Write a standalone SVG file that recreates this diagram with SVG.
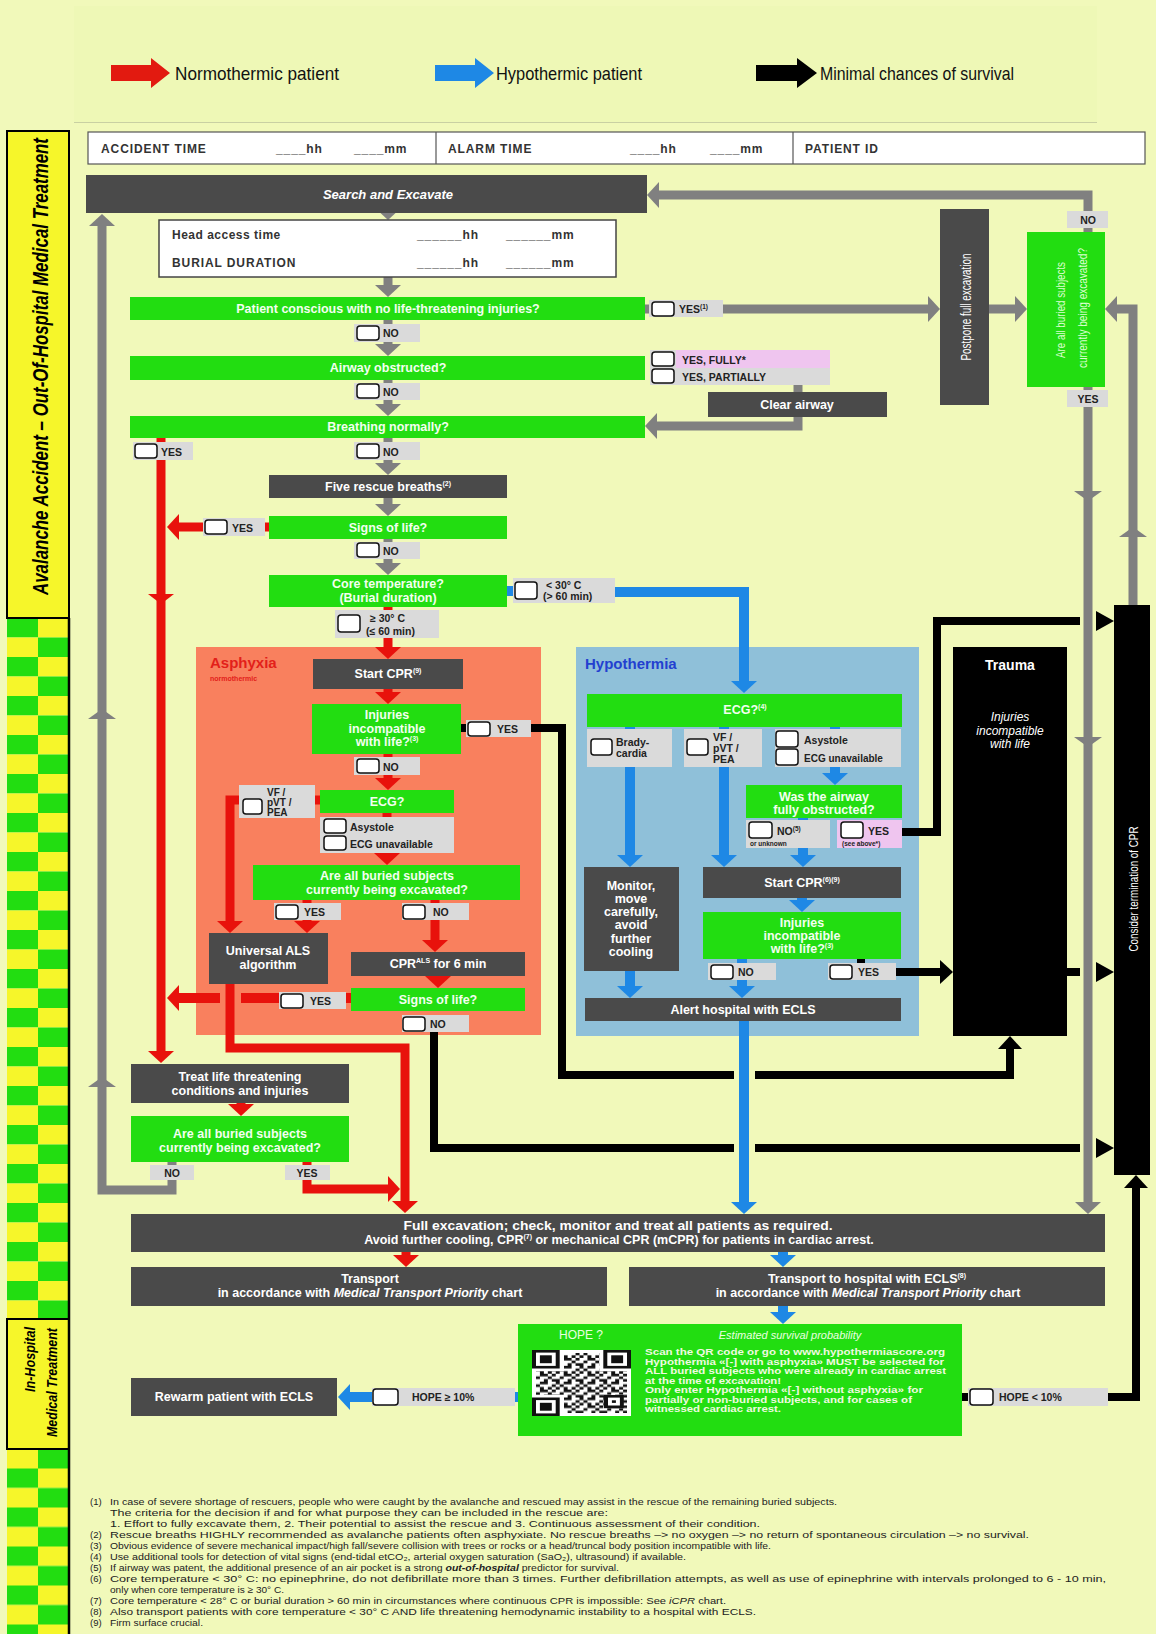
<svg xmlns="http://www.w3.org/2000/svg" width="1156" height="1634" viewBox="0 0 1156 1634">
<defs>
<style>
text{font-family:"Liberation Sans",Arial,sans-serif;font-weight:bold;font-size:12.5px;fill:#fff}
.m{text-anchor:middle}
.e{text-anchor:end}
.it{font-style:italic}
.nb{font-weight:normal}
.gt{fill:#f3fff0}
.lt{fill:#222;font-size:10.5px}
.sm{fill:#222;font-size:6.5px}
.hd{fill:#333;font-size:12px;letter-spacing:0.9px}
.fn{fill:#222;font-weight:normal;font-size:9.5px}
.lg{fill:#111;font-weight:normal;font-size:19px}
.gb{fill:#22dd11}
.db{fill:#4a4a4a}
.lb{fill:#dadada}
.pk{fill:#efc5ef}
.cb{fill:#fff;stroke:#111;stroke-width:1.5}
.cg{fill:none;stroke:#808080;stroke-width:9}
.cr{fill:none;stroke:#e8120c;stroke-width:9}
.cbl{fill:none;stroke:#1e88e5;stroke-width:10}
.ck{fill:none;stroke:#000;stroke-width:8}
.mg{fill:#808080}
.mr{fill:#e8120c}
.mk{fill:#000}
</style>
<marker id="hg" markerUnits="userSpaceOnUse" markerWidth="12" markerHeight="26" refX="1" refY="13" orient="auto"><path d="M0,0L12,13L0,26z" fill="#808080"/></marker>
<marker id="hr" markerUnits="userSpaceOnUse" markerWidth="12" markerHeight="26" refX="1" refY="13" orient="auto"><path d="M0,0L12,13L0,26z" fill="#e8120c"/></marker>
<marker id="hb" markerUnits="userSpaceOnUse" markerWidth="12" markerHeight="26" refX="1" refY="13" orient="auto"><path d="M0,0L12,13L0,26z" fill="#1e88e5"/></marker>
<marker id="hk" markerUnits="userSpaceOnUse" markerWidth="13" markerHeight="24" refX="1" refY="12" orient="auto"><path d="M0,0L13,12L0,24z" fill="#000"/></marker>
<pattern id="chk1" x="7" y="618" width="62" height="39" patternUnits="userSpaceOnUse">
<rect x="0" y="0" width="31" height="19.5" fill="#22dd11"/><rect x="31" y="0" width="31" height="19.5" fill="#f6f62a"/>
<rect x="0" y="19.5" width="31" height="19.5" fill="#f6f62a"/><rect x="31" y="19.5" width="31" height="19.5" fill="#22dd11"/>
</pattern>
<pattern id="chk2" x="7" y="1429.5" width="62" height="39" patternUnits="userSpaceOnUse">
<rect x="0" y="0" width="31" height="19.5" fill="#22dd11"/><rect x="31" y="0" width="31" height="19.5" fill="#f6f62a"/>
<rect x="0" y="19.5" width="31" height="19.5" fill="#f6f62a"/><rect x="31" y="19.5" width="31" height="19.5" fill="#22dd11"/>
</pattern>
<pattern id="qrp" x="532" y="1350" width="23.76" height="15.84" patternUnits="userSpaceOnUse">
<g fill="#111">
<rect x="0" y="0" width="3.96" height="2.64"/><rect x="7.92" y="0" width="7.92" height="2.64"/>
<rect x="3.96" y="2.64" width="3.96" height="2.64"/><rect x="19.8" y="2.64" width="3.96" height="2.64"/>
<rect x="0" y="5.28" width="3.96" height="2.64"/><rect x="7.92" y="5.28" width="3.96" height="2.64"/><rect x="15.84" y="5.28" width="3.96" height="2.64"/>
<rect x="7.92" y="7.92" width="7.92" height="2.64"/><rect x="19.8" y="7.92" width="3.96" height="2.64"/>
<rect x="3.96" y="10.56" width="3.96" height="2.64"/><rect x="15.84" y="10.56" width="3.96" height="2.64"/>
<rect x="0" y="13.2" width="3.96" height="2.64"/><rect x="11.88" y="13.2" width="3.96" height="2.64"/><rect x="19.8" y="13.2" width="3.96" height="2.64"/>
</g>
</pattern>
</defs>

<rect x="0" y="0" width="1156" height="1634" fill="#f1f9ba"/>

<g id="legend">
<rect x="74" y="6" width="1023" height="117" fill="#eef8b6"/>
<line x1="74" y1="122.5" x2="1097" y2="122.5" stroke="#c9d0a2" stroke-width="1"/>
<polygon points="111,65 151,65 151,58 170,73 151,88 151,81 111,81" fill="#e21a10"/>
<text class="lg" x="175" y="80" textLength="164" lengthAdjust="spacingAndGlyphs">Normothermic patient</text>
<polygon points="435,65 475,65 475,58 494,73 475,88 475,81 435,81" fill="#1e88e5"/>
<text class="lg" x="496" y="80" textLength="146" lengthAdjust="spacingAndGlyphs">Hypothermic patient</text>
<polygon points="756,65 797,65 797,58 817,73 797,88 797,81 756,81" fill="#000"/>
<text class="lg" x="820" y="80" textLength="194" lengthAdjust="spacingAndGlyphs">Minimal chances of survival</text>
</g>

<g id="side-band">
<rect x="7" y="618" width="62" height="701" fill="url(#chk1)"/>
<rect x="7" y="1449" width="62" height="185" fill="url(#chk2)"/>
<rect x="7" y="131" width="62" height="487" fill="#f6f62a" stroke="#000" stroke-width="2"/>
<rect x="7" y="1319" width="62" height="130" fill="#f6f62a" stroke="#000" stroke-width="2"/>
<line x1="69" y1="618" x2="69" y2="1634" stroke="#000" stroke-width="2.5"/>
<text class="it" transform="translate(48,595) rotate(-90)" style="fill:#000;font-size:22px" textLength="457" lengthAdjust="spacingAndGlyphs">Avalanche Accident – Out-Of-Hospital Medical Treatment</text>
<text class="it e" transform="translate(35,1327) rotate(-90)" style="fill:#000;font-size:15px" textLength="65" lengthAdjust="spacingAndGlyphs">In-Hospital</text>
<text class="it e" transform="translate(57,1328) rotate(-90)" style="fill:#000;font-size:15px" textLength="109" lengthAdjust="spacingAndGlyphs">Medical Treatment</text>
</g>

<g id="header">
<rect x="88" y="132" width="1057" height="32" fill="#fff" stroke="#555" stroke-width="1.2"/>
<line x1="436" y1="132" x2="436" y2="164" stroke="#555" stroke-width="1.2"/>
<line x1="793" y1="132" x2="793" y2="164" stroke="#555" stroke-width="1.2"/>
<text class="hd" x="101" y="153">ACCIDENT TIME</text>
<text class="hd" x="276" y="153">____hh</text>
<text class="hd" x="354" y="153">____mm</text>
<text class="hd" x="448" y="153">ALARM TIME</text>
<text class="hd" x="630" y="153">____hh</text>
<text class="hd" x="710" y="153">____mm</text>
<text class="hd" x="805" y="153">PATIENT ID</text>
</g>

<g id="region-asphyxia">
<rect x="196" y="647" width="345" height="388" fill="#f9805e"/>
<text x="210" y="668" style="fill:#e3201a;font-size:15px">Asphyxia</text>
<text x="210" y="681" style="fill:#e3201a;font-size:7px">normothermic</text>
</g>
<g id="region-hypothermia">
<rect x="576" y="647" width="343" height="389" fill="#8fc0d9"/>
<text x="585" y="669" style="fill:#2340d0;font-size:15px">Hypothermia</text>
</g>

<g id="connectors">
<path class="cg" d="M388,206V209" marker-end="url(#hg)"/>
<path class="cg" d="M388,276V286" marker-end="url(#hg)"/>
<path class="cg" d="M388,318V326"/>
<path class="cg" d="M388,340V345" marker-end="url(#hg)"/>
<path class="cg" d="M388,378V385"/>
<path class="cg" d="M388,398V405" marker-end="url(#hg)"/>
<path class="cg" d="M388,436V444"/>
<path class="cg" d="M388,458V464" marker-end="url(#hg)"/>
<path class="cg" d="M388,496V505" marker-end="url(#hg)"/>
<path class="cg" d="M388,537V544"/>
<path class="cg" d="M388,557V564" marker-end="url(#hg)"/>
<path class="cg" d="M640,309H929" marker-end="url(#hg)"/>
<path class="cg" d="M985,309H1016" marker-end="url(#hg)"/>
<path class="cg" d="M798,383V394"/>
<path class="cg" d="M798,415V426H656" marker-end="url(#hg)"/>
<path class="cg" d="M1088,236V195H658" marker-end="url(#hg)"/>
<path class="cg" d="M1088,385V1203" marker-end="url(#hg)"/>
<path class="cg" d="M1133,607V309H1116" marker-end="url(#hg)"/>
<path class="cg" d="M172,1160V1190H102V225" marker-end="url(#hg)"/>
<polygon class="mg" points="102,709 88,719 116,719"/>
<polygon class="mg" points="102,1077 88,1087 116,1087"/>
<polygon class="mg" points="1088,501 1074,491 1102,491"/>
<polygon class="mg" points="1088,747 1074,737 1102,737"/>
<polygon class="mg" points="1133,527 1119,537 1147,537"/>
<path class="cr" d="M161,436V1052" marker-end="url(#hr)"/>
<polygon class="mr" points="161,604 148,594 174,594"/>
<path class="cr" d="M271,527H178" marker-end="url(#hr)"/>
<path class="cr" d="M388,605V612"/>
<path class="cr" d="M388,636V648" marker-end="url(#hr)"/>
<path class="cr" d="M388,687V693" marker-end="url(#hr)"/>
<path class="cr" d="M388,752V759"/>
<path class="cr" d="M388,773V779" marker-end="url(#hr)"/>
<path class="cr" d="M387,811V819"/>
<path class="cr" d="M387,851V854" marker-end="url(#hr)"/>
<path class="cr" d="M322,800H312"/>
<path class="cr" d="M241,800H230V922" marker-end="url(#hr)"/>
<path class="cr" d="M307,898V905"/>
<path class="cr" d="M307,918V922" marker-end="url(#hr)"/>
<path class="cr" d="M435,898V905"/>
<path class="cr" d="M435,918V941" marker-end="url(#hr)"/>
<path class="cr" d="M438,974V977" marker-end="url(#hr)"/>
<path class="cr" d="M230,982V1048H405V1202" marker-end="url(#hr)"/>
<path class="cr" d="M353,998H241" style="stroke-width:10"/>
<path class="cr" d="M220,998H178" style="stroke-width:10" marker-end="url(#hr)"/>
<path class="cr" d="M241,1101V1105" marker-end="url(#hr)"/>
<path class="cr" d="M307,1160V1167"/>
<path class="cr" d="M307,1178V1189H389" marker-end="url(#hr)"/>
<path class="cr" d="M406,1250V1256" marker-end="url(#hr)"/>
<path class="cbl" d="M505,591H515"/>
<path class="cbl" d="M613,592H744V682" marker-end="url(#hb)"/>
<path class="cbl" d="M630,725V731M724,725V731M835,725V731"/>
<path class="cbl" d="M835,765V774" marker-end="url(#hb)"/>
<path class="cbl" d="M630,765V856" marker-end="url(#hb)"/>
<path class="cbl" d="M724,765V856" marker-end="url(#hb)"/>
<path class="cbl" d="M803,816V822"/>
<path class="cbl" d="M803,846V856" marker-end="url(#hb)"/>
<path class="cbl" d="M802,896V901" marker-end="url(#hb)"/>
<path class="cbl" d="M742,957V965"/>
<path class="cbl" d="M742,978V987" marker-end="url(#hb)"/>
<path class="cbl" d="M630,969V987" marker-end="url(#hb)"/>
<path class="cbl" d="M744,1019V1203" marker-end="url(#hb)"/>
<path class="cbl" d="M783,1250V1256" marker-end="url(#hb)"/>
<path class="cbl" d="M783,1304V1313" marker-end="url(#hb)"/>
<path class="cbl" d="M520,1397H513"/>
<path class="cbl" d="M374,1397H349" marker-end="url(#hb)"/>
<path class="ck" d="M459,728H468"/>
<path class="ck" d="M529,728H562V1075H734"/>
<path class="ck" d="M755,1075H1010V1048" marker-end="url(#hk)"/>
<path class="ck" d="M900,832H937V621H1080"/>
<polygon class="mk" points="1096,611 1114,621 1096,631"/>
<path class="ck" d="M861,957V965"/>
<path class="ck" d="M894,972H941" marker-end="url(#hk)"/>
<path class="ck" d="M1065,972H1080"/>
<polygon class="mk" points="1096,962 1114,972 1096,982"/>
<path class="ck" d="M434,1030V1148H734"/>
<path class="ck" d="M755,1148H1080"/>
<polygon class="mk" points="1096,1138 1114,1148 1096,1158"/>
<path class="ck" d="M960,1397H970"/>
<path class="ck" d="M1106,1397H1136V1187" marker-end="url(#hk)"/>
</g>

<g id="search"><rect class="db" x="86" y="175" width="561" height="38"/><text class="m it" x="388" y="199" style="font-size:13px">Search and Excavate</text></g>

<g id="head-access">
<rect x="159" y="220" width="457" height="57" fill="#fff" stroke="#444" stroke-width="1.5"/>
<text class="hd" x="172" y="239" style="letter-spacing:0.5px">Head access time</text>
<text class="hd" x="172" y="267">BURIAL DURATION</text>
<text class="hd" x="417" y="239">______hh</text>
<text class="hd" x="506" y="239">______mm</text>
<text class="hd" x="417" y="267">______hh</text>
<text class="hd" x="506" y="267">______mm</text>
</g>

<g id="q-conscious"><rect class="gb" x="130" y="297" width="515" height="23"/><text class="m gt" x="388" y="313">Patient conscious with no life-threatening injuries?</text></g>
<g id="l-yes1"><rect class="lb" x="649" y="300" width="74" height="17"/><rect class="cb" x="652" y="302" width="22" height="14" rx="3"/><text class="lt" x="679" y="313">YES<tspan font-size="6.5" dy="-4">(1)</tspan></text></g>
<g id="l-no1"><rect class="lb" x="354" y="324" width="66" height="18"/><rect class="cb" x="357" y="326" width="22" height="14" rx="3"/><text class="lt" x="383" y="337">NO</text></g>
<g id="q-airway"><rect class="gb" x="130" y="356" width="515" height="24"/><text class="m gt" x="388" y="372">Airway obstructed?</text></g>
<g id="l-fully"><rect class="lb" x="650" y="350" width="180" height="18"/><rect class="pk" x="676" y="350" width="154" height="18"/><rect class="cb" x="652" y="352" width="22" height="14" rx="3"/><text class="lt" x="682" y="364">YES, FULLY*</text></g>
<g id="l-partially"><rect class="lb" x="650" y="368" width="180" height="17"/><rect class="cb" x="652" y="369" width="22" height="14" rx="3"/><text class="lt" x="682" y="381">YES, PARTIALLY</text></g>
<g id="clear-airway"><rect class="db" x="708" y="392" width="179" height="25"/><text class="m" x="797" y="409">Clear airway</text></g>
<g id="l-no2"><rect class="lb" x="354" y="383" width="66" height="17"/><rect class="cb" x="357" y="384" width="22" height="14" rx="3"/><text class="lt" x="383" y="396">NO</text></g>
<g id="q-breathing"><rect class="gb" x="130" y="416" width="515" height="22"/><text class="m gt" x="388" y="431">Breathing normally?</text></g>
<g id="l-yes-breath"><rect class="lb" x="133" y="442" width="60" height="18"/><rect class="cb" x="135" y="444" width="22" height="14" rx="3"/><text class="lt" x="161" y="456">YES</text></g>
<g id="l-no3"><rect class="lb" x="354" y="442" width="66" height="18"/><rect class="cb" x="357" y="444" width="22" height="14" rx="3"/><text class="lt" x="383" y="456">NO</text></g>
<g id="five-breaths"><rect class="db" x="269" y="475" width="238" height="23"/><text class="m" x="388" y="491">Five rescue breaths<tspan font-size="7" dy="-5">(2)</tspan></text></g>
<g id="q-signs1"><rect class="gb" x="269" y="516" width="238" height="23"/><text class="m gt" x="388" y="532">Signs of life?</text></g>
<g id="l-yes-signs1"><rect class="lb" x="203" y="518" width="62" height="18"/><rect class="cb" x="205" y="520" width="22" height="14" rx="3"/><text class="lt" x="232" y="532">YES</text></g>
<g id="l-no4"><rect class="lb" x="354" y="542" width="66" height="17"/><rect class="cb" x="357" y="543" width="22" height="14" rx="3"/><text class="lt" x="383" y="555">NO</text></g>
<g id="q-core"><rect class="gb" x="269" y="575" width="238" height="32"/><text class="m gt" x="388" y="588">Core temperature?</text><text class="m gt" x="388" y="602">(Burial duration)</text></g>
<g id="l-lt30"><rect class="lb" x="513" y="578" width="102" height="25"/><rect class="cb" x="515" y="582" width="22" height="17" rx="3"/><text class="lt" x="546" y="589">&lt; 30° C</text><text class="lt" x="543" y="600">(&gt; 60 min)</text></g>
<g id="l-ge30"><rect class="lb" x="335" y="610" width="104" height="28"/><rect class="cb" x="338" y="615" width="22" height="17" rx="3"/><text class="lt" x="370" y="622">≥ 30° C</text><text class="lt" x="366" y="635">(≤ 60 min)</text></g>

<g id="start-cpr-a"><rect class="db" x="313" y="659" width="150" height="30"/><text class="m" x="388" y="678">Start CPR<tspan font-size="7" dy="-5">(9)</tspan></text></g>
<g id="q-injuries-a"><rect class="gb" x="312" y="704" width="149" height="50"/><text class="m gt" x="387" y="719">Injuries</text><text class="m gt" x="387" y="733">incompatible</text><text class="m gt" x="387" y="746">with life?<tspan font-size="7" dy="-5">(3)</tspan></text></g>
<g id="l-yes-inj-a"><rect class="lb" x="466" y="720" width="65" height="17"/><rect class="cb" x="468" y="722" width="22" height="14" rx="3"/><text class="lt" x="497" y="733">YES</text></g>
<g id="l-no5"><rect class="lb" x="354" y="757" width="66" height="18"/><rect class="cb" x="357" y="759" width="22" height="14" rx="3"/><text class="lt" x="383" y="771">NO</text></g>
<g id="q-ecg-a"><rect class="gb" x="320" y="790" width="134" height="23"/><text class="m gt" x="387" y="806">ECG?</text></g>
<g id="l-vf-a"><rect class="lb" x="239" y="785" width="76" height="33"/><rect class="cb" x="243" y="799" width="19" height="15" rx="3"/><text class="lt" x="267" y="796" style="font-size:10px">VF /</text><text class="lt" x="267" y="806" style="font-size:10px">pVT /</text><text class="lt" x="267" y="816" style="font-size:10px">PEA</text></g>
<g id="l-asys-a"><rect class="lb" x="320" y="817" width="134" height="36"/><rect class="cb" x="324" y="819" width="22" height="14" rx="3"/><text class="lt" x="350" y="831">Asystole</text><rect class="cb" x="324" y="836" width="22" height="14" rx="3"/><text class="lt" x="350" y="848">ECG unavailable</text></g>
<g id="q-buried-a"><rect class="gb" x="253" y="865" width="267" height="35"/><text class="m gt" x="387" y="880">Are all buried subjects</text><text class="m gt" x="387" y="894">currently being excavated?</text></g>
<g id="l-yes-bur-a"><rect class="lb" x="274" y="903" width="67" height="17"/><rect class="cb" x="276" y="905" width="22" height="14" rx="3"/><text class="lt" x="304" y="916">YES</text></g>
<g id="l-no-bur-a"><rect class="lb" x="402" y="903" width="67" height="17"/><rect class="cb" x="403" y="905" width="22" height="14" rx="3"/><text class="lt" x="433" y="916">NO</text></g>
<g id="als"><rect class="db" x="209" y="933" width="119" height="51"/><text class="m" x="268" y="955">Universal ALS</text><text class="m" x="268" y="969">algorithm</text></g>
<g id="cpr-als"><rect class="db" x="351" y="952" width="174" height="24"/><text class="m" x="438" y="968">CPR<tspan font-size="7" dy="-5">ALS</tspan><tspan dy="5"> for 6 min</tspan></text></g>
<g id="q-signs2"><rect class="gb" x="351" y="988" width="174" height="23"/><text class="m gt" x="438" y="1004">Signs of life?</text></g>
<g id="l-yes-signs2"><rect class="lb" x="279" y="992" width="67" height="17"/><rect class="cb" x="281" y="994" width="22" height="14" rx="3"/><text class="lt" x="310" y="1005">YES</text></g>
<g id="l-no-signs2"><rect class="lb" x="402" y="1015" width="67" height="17"/><rect class="cb" x="403" y="1017" width="22" height="14" rx="3"/><text class="lt" x="430" y="1028">NO</text></g>

<g id="treat"><rect class="db" x="131" y="1064" width="218" height="39"/><text class="m" x="240" y="1081">Treat life threatening</text><text class="m" x="240" y="1095">conditions and injuries</text></g>
<g id="q-buried-b"><rect class="gb" x="131" y="1116" width="218" height="46"/><text class="m gt" x="240" y="1138">Are all buried subjects</text><text class="m gt" x="240" y="1152">currently being excavated?</text></g>
<g id="l-no-bur-b"><rect class="lb" x="150" y="1165" width="44" height="15"/><text class="lt m" x="172" y="1177">NO</text></g>
<g id="l-yes-bur-b"><rect class="lb" x="285" y="1165" width="45" height="15"/><text class="lt m" x="307" y="1177">YES</text></g>

<g id="q-ecg-h"><rect class="gb" x="587" y="694" width="315" height="33"/><text class="m gt" x="745" y="714">ECG?<tspan font-size="7" dy="-5">(4)</tspan></text></g>
<g id="l-brady"><rect class="lb" x="587" y="729" width="85" height="38"/><rect class="cb" x="591" y="739" width="21" height="16" rx="3"/><text class="lt" x="616" y="746">Brady-</text><text class="lt" x="616" y="757">cardia</text></g>
<g id="l-vf-h"><rect class="lb" x="684" y="729" width="78" height="38"/><rect class="cb" x="687" y="739" width="21" height="16" rx="3"/><text class="lt" x="713" y="741">VF /</text><text class="lt" x="713" y="752">pVT /</text><text class="lt" x="713" y="763">PEA</text></g>
<g id="l-asys-h"><rect class="lb" x="775" y="729" width="126" height="38"/><rect class="cb" x="776" y="731" width="22" height="16" rx="3"/><text class="lt" x="804" y="744">Asystole</text><rect class="cb" x="776" y="749" width="22" height="16" rx="3"/><text class="lt" x="804" y="762" style="font-size:10px">ECG unavailable</text></g>
<g id="q-airway-h"><rect class="gb" x="746" y="785" width="156" height="33"/><text class="m gt" x="824" y="801">Was the airway</text><text class="m gt" x="824" y="814">fully obstructed?</text></g>
<g id="l-no-airway"><rect class="lb" x="746" y="820" width="84" height="28"/><rect class="cb" x="749" y="822" width="23" height="16" rx="3"/><text class="lt" x="777" y="835">NO<tspan font-size="6.5" dy="-4">(5)</tspan></text><text class="sm" x="750" y="846">or unknown</text></g>
<g id="l-yes-airway"><rect class="pk" x="837" y="820" width="65" height="28"/><rect class="cb" x="841" y="822" width="22" height="16" rx="3"/><text class="lt" x="868" y="835">YES</text><text class="sm" x="842" y="846">(see above*)</text></g>
<g id="monitor"><rect class="db" x="584" y="867" width="95" height="104"/><text class="m" x="631" y="890">Monitor,</text><text class="m" x="631" y="903">move</text><text class="m" x="631" y="916">carefully,</text><text class="m" x="631" y="929">avoid</text><text class="m" x="631" y="943">further</text><text class="m" x="631" y="956">cooling</text></g>
<g id="start-cpr-h"><rect class="db" x="703" y="867" width="198" height="31"/><text class="m" x="802" y="887">Start CPR<tspan font-size="7" dy="-5">(6)(9)</tspan></text></g>
<g id="q-injuries-h"><rect class="gb" x="703" y="912" width="198" height="47"/><text class="m gt" x="802" y="927">Injuries</text><text class="m gt" x="802" y="940">incompatible</text><text class="m gt" x="802" y="953">with life?<tspan font-size="7" dy="-5">(3)</tspan></text></g>
<g id="l-no-inj-h"><rect class="lb" x="708" y="963" width="68" height="17"/><rect class="cb" x="711" y="965" width="22" height="14" rx="3"/><text class="lt" x="738" y="976">NO</text></g>
<g id="l-yes-inj-h"><rect class="lb" x="828" y="963" width="68" height="17"/><rect class="cb" x="830" y="965" width="22" height="14" rx="3"/><text class="lt" x="858" y="976">YES</text></g>
<g id="alert"><rect class="db" x="585" y="998" width="316" height="23"/><text class="m" x="743" y="1014">Alert hospital with ECLS</text></g>

<g id="trauma"><rect x="953" y="647" width="114" height="389" fill="#000"/><text class="m" x="1010" y="670" style="font-size:14px">Trauma</text><text class="m it nb" x="1010" y="721" style="font-size:12px">Injuries</text><text class="m it nb" x="1010" y="735" style="font-size:12px">incompatible</text><text class="m it nb" x="1010" y="748" style="font-size:12px">with life</text></g>
<g id="postpone"><rect class="db" x="940" y="209" width="49" height="196"/><text class="m nb" transform="translate(971,307) rotate(-90)" style="font-size:14px" textLength="107" lengthAdjust="spacingAndGlyphs">Postpone full excavation</text></g>
<g id="q-buried-top"><rect class="gb" x="1027" y="232" width="78" height="155"/><text class="m nb" transform="translate(1065,310) rotate(-90)" style="font-size:12.5px;fill:#dcffd0" textLength="96" lengthAdjust="spacingAndGlyphs">Are all buried subjects</text><text class="m nb" transform="translate(1087,308) rotate(-90)" style="font-size:12.5px;fill:#dcffd0" textLength="120" lengthAdjust="spacingAndGlyphs">currently being excavated?</text></g>
<g id="l-no-top"><rect class="lb" x="1067" y="211" width="41" height="17"/><text class="lt m" x="1088" y="224">NO</text></g>
<g id="l-yes-top"><rect class="lb" x="1067" y="390" width="41" height="17"/><text class="lt m" x="1088" y="403">YES</text></g>
<g id="consider"><rect x="1114" y="605" width="36" height="570" fill="#000"/><text class="m nb" transform="translate(1138,889) rotate(-90)" style="font-size:13px" textLength="125" lengthAdjust="spacingAndGlyphs">Consider termination of CPR</text></g>

<g id="full-excavation"><rect class="db" x="131" y="1214" width="974" height="38"/><text class="m" x="618" y="1230" textLength="429" lengthAdjust="spacingAndGlyphs">Full excavation; check, monitor and treat all patients as required.</text><text class="m" x="619" y="1244">Avoid further cooling, CPR<tspan font-size="7" dy="-5">(7)</tspan><tspan dy="5"> or mechanical CPR (mCPR) for patients in cardiac arrest.</tspan></text></g>
<g id="transport"><rect class="db" x="131" y="1267" width="476" height="39"/><text class="m" x="370" y="1283">Transport</text><text class="m" x="370" y="1297">in accordance with <tspan class="it">Medical Transport Priority</tspan> chart</text></g>
<g id="transport-ecls"><rect class="db" x="629" y="1267" width="476" height="39"/><text class="m" x="867" y="1283">Transport to hospital with ECLS<tspan font-size="7" dy="-5">(8)</tspan></text><text class="m" x="868" y="1297">in accordance with <tspan class="it">Medical Transport Priority</tspan> chart</text></g>

<g id="hope">
<rect class="gb" x="518" y="1324" width="444" height="112"/>
<text x="559" y="1339" class="nb" style="font-size:12px;fill:#eaffe0">HOPE ?</text>
<text class="m it nb" x="790" y="1339" style="font-size:11px;fill:#eaffe0">Estimated survival probability</text>
<rect x="532" y="1350" width="99" height="66" fill="#fff"/>
<rect x="536" y="1353" width="91" height="60" fill="url(#qrp)"/>
<g>
<rect x="532" y="1350" width="32" height="21" fill="#fff"/><rect x="532" y="1350" width="27.7" height="18.5" fill="#111"/><rect x="536" y="1352.6" width="19.7" height="13.3" fill="#fff"/><rect x="539.9" y="1355.3" width="11.9" height="7.9" fill="#111"/>
<rect x="599.3" y="1350" width="31.7" height="21" fill="#fff"/><rect x="603.3" y="1350" width="27.7" height="18.5" fill="#111"/><rect x="607.3" y="1352.6" width="19.7" height="13.3" fill="#fff"/><rect x="611.2" y="1355.3" width="11.9" height="7.9" fill="#111"/>
<rect x="532" y="1395" width="32" height="21" fill="#fff"/><rect x="532" y="1397.5" width="27.7" height="18.5" fill="#111"/><rect x="536" y="1400.1" width="19.7" height="13.3" fill="#fff"/><rect x="539.9" y="1402.8" width="11.9" height="7.9" fill="#111"/>
<rect x="604" y="1395" width="19.8" height="13.2" fill="#111"/><rect x="608" y="1397.6" width="11.9" height="7.9" fill="#fff"/><rect x="611.9" y="1400.3" width="4" height="2.6" fill="#111"/>
</g>
<g>
<text x="645" y="1355" style="font-size:8.5px;fill:#f0fae0" textLength="300" lengthAdjust="spacingAndGlyphs">Scan the QR code or go to www.hypothermiascore.org</text>
<text x="645" y="1364.5" style="font-size:8.5px;fill:#f0fae0" textLength="299" lengthAdjust="spacingAndGlyphs">Hypothermia «[-] with asphyxia» MUST be selected for</text>
<text x="645" y="1374" style="font-size:8.5px;fill:#f0fae0" textLength="301" lengthAdjust="spacingAndGlyphs">ALL buried subjects who were already in cardiac arrest</text>
<text x="645" y="1383.5" style="font-size:8.5px;fill:#f0fae0" textLength="136" lengthAdjust="spacingAndGlyphs">at the time of excavation!</text>
<text x="645" y="1393" style="font-size:8.5px;fill:#f0fae0" textLength="278" lengthAdjust="spacingAndGlyphs">Only enter Hypothermia «[-] without asphyxia» for</text>
<text x="645" y="1402.5" style="font-size:8.5px;fill:#f0fae0" textLength="267" lengthAdjust="spacingAndGlyphs">partially or non-buried subjects, and for cases of</text>
<text x="645" y="1412" style="font-size:8.5px;fill:#f0fae0" textLength="136" lengthAdjust="spacingAndGlyphs">witnessed cardiac arrest.</text>
</g>
</g>
<g id="l-hope-ge"><rect class="lb" x="372" y="1388" width="143" height="18"/><rect class="cb" x="373" y="1389" width="25" height="16" rx="3"/><text class="lt" x="412" y="1401">HOPE ≥ 10%</text></g>
<g id="l-hope-lt"><rect class="lb" x="968" y="1388" width="140" height="18"/><rect class="cb" x="970" y="1389" width="23" height="16" rx="3"/><text class="lt" x="999" y="1401">HOPE &lt; 10%</text></g>
<g id="rewarm"><rect class="db" x="131" y="1378" width="206" height="38"/><text class="m" x="234" y="1401">Rewarm patient with ECLS</text></g>

<g id="footnotes">
<text class="fn" x="90" y="1505">(1)</text><text class="fn" x="110" y="1505" textLength="727" lengthAdjust="spacingAndGlyphs">In case of severe shortage of rescuers, people who were caught by the avalanche and rescued may assist in the rescue of the remaining buried subjects.</text>
<text class="fn" x="110" y="1516" textLength="498" lengthAdjust="spacingAndGlyphs">The criteria for the decision if and for what purpose they can be included in the rescue are:</text>
<text class="fn" x="110" y="1527" textLength="650" lengthAdjust="spacingAndGlyphs">1. Effort to fully excavate them, 2. Their potential to assist the rescue and 3. Continuous assessment of their condition.</text>
<text class="fn" x="90" y="1538">(2)</text><text class="fn" x="110" y="1538" textLength="919" lengthAdjust="spacingAndGlyphs">Rescue breaths HIGHLY recommended as avalanche patients often asphyxiate. No rescue breaths –&gt; no oxygen –&gt; no return of spontaneous circulation –&gt; no survival.</text>
<text class="fn" x="90" y="1549">(3)</text><text class="fn" x="110" y="1549" textLength="661" lengthAdjust="spacingAndGlyphs">Obvious evidence of severe mechanical impact/high fall/severe collision with trees or rocks or a head/truncal body position incompatible with life.</text>
<text class="fn" x="90" y="1560">(4)</text><text class="fn" x="110" y="1560" textLength="576" lengthAdjust="spacingAndGlyphs">Use additional tools for detection of vital signs (end-tidal etCO₂, arterial oxygen saturation (SaO₂), ultrasound) if available.</text>
<text class="fn" x="90" y="1571">(5)</text><text class="fn" x="110" y="1571" textLength="509" lengthAdjust="spacingAndGlyphs">If airway was patent, the additional presence of an air pocket is a strong <tspan font-weight="bold" font-style="italic">out-of-hospital</tspan> predictor for survival.</text>
<text class="fn" x="90" y="1582">(6)</text><text class="fn" x="110" y="1582" textLength="996" lengthAdjust="spacingAndGlyphs">Core temperature &lt; 30° C: no epinephrine, do not defibrillate more than 3 times. Further defibrillation attempts, as well as use of epinephrine with intervals prolonged to 6 - 10 min,</text>
<text class="fn" x="110" y="1593" textLength="174" lengthAdjust="spacingAndGlyphs">only when core temperature is ≥ 30° C.</text>
<text class="fn" x="90" y="1604">(7)</text><text class="fn" x="110" y="1604" textLength="616" lengthAdjust="spacingAndGlyphs">Core temperature &lt; 28° C or burial duration &gt; 60 min in circumstances where continuous CPR is impossible: See <tspan font-style="italic">iCPR</tspan> chart.</text>
<text class="fn" x="90" y="1615">(8)</text><text class="fn" x="110" y="1615" textLength="646" lengthAdjust="spacingAndGlyphs">Also transport patients with core temperature &lt; 30° C AND life threatening hemodynamic instability to a hospital with ECLS.</text>
<text class="fn" x="90" y="1626">(9)</text><text class="fn" x="110" y="1626" textLength="93" lengthAdjust="spacingAndGlyphs">Firm surface crucial.</text>
</g>
</svg>
